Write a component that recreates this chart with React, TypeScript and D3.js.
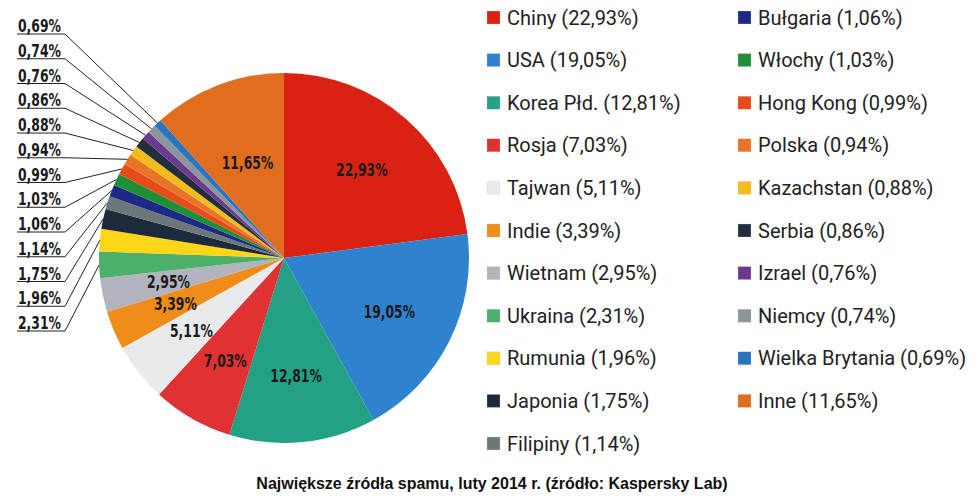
import * as d3 from "d3";
import React from "react";

const countries = [
  "Chiny", "USA", "Korea Płd.", "Rosja", "Tajwan", "Indie", "Wietnam",
  "Ukraina", "Rumunia", "Japonia", "Filipiny", "Bułgaria", "Włochy",
  "Hong Kong", "Polska", "Kazachstan", "Serbia", "Izrael", "Niemcy",
  "Wielka Brytania", "Inne",
];
const shares = [
  22.93, 19.05, 12.81, 7.03, 5.11, 3.39, 2.95, 2.31, 1.96, 1.75, 1.14, 1.06,
  1.03, 0.99, 0.94, 0.88, 0.86, 0.76, 0.74, 0.69, 11.65,
];
const colors = [
  "#d92212", "#2f82cd", "#22a184", "#e03232", "#e8eaeb", "#f08c1a", "#b1b4bc",
  "#4caf6a", "#fcd617", "#1c2a3c", "#6d7779", "#1d2a85", "#1f8f35", "#e84a1a",
  "#e8742a", "#f2bd1c", "#222e3d", "#6b3a8e", "#8c9599", "#2a76be", "#e06e1e",
];
// slices labelled inside the pie; the rest get leader lines on the left
const insideLabels = ["Chiny", "USA", "Korea Płd.", "Rosja", "Tajwan", "Indie", "Wietnam", "Inne"];
const title = "Największe źródła spamu, luty 2014 r. (źródło: Kaspersky Lab)";

const fmt = (v: number) => v.toFixed(2).replace(".", ",") + "%";

const App = () => {
  const width = 978;
  const height = 500;
  const cx = 284;
  const cy = 258;
  const r = 185;

  const data = countries.map((name, i) => ({ name, value: shares[i], color: colors[i] }));
  const arcs = d3.pie<any>().sort(null).value((d) => d.value)(data);
  const arc = d3.arc<any>().innerRadius(0).outerRadius(r);

  // condensed bold look for the percentage labels
  const labelProps = (s: string) => ({
    fontFamily: "'DejaVu Sans Condensed', 'DejaVu Sans', sans-serif",
    fontWeight: "bold",
    fontSize: 18,
    fill: "#1a1a1a",
    textLength: s.length * 8.6,
    lengthAdjust: "spacingAndGlyphs",
    style: { fontStretch: "condensed" as const },
  });

  // leader-labelled slices, top of the list = last slice before "Inne"
  const outside = arcs.filter((a) => !insideLabels.includes(a.data.name)).reverse();
  const rowY = d3.scaleLinear().domain([0, outside.length - 1]).range([34, 331]);

  // legend: two columns
  const col1 = data.slice(0, 11);
  const col2 = data.slice(11);
  const legY = d3.scaleLinear().domain([0, 10]).range([17.5, 443.5]);

  return (
    <svg width={width} height={height} style={{ display: "block", position: "absolute", left: 0, top: 0 }}>
      <rect width={width} height={height} fill="#fff" />
      <g transform={`translate(${cx},${cy})`}>
        {arcs.map((a) => (
          <path key={a.data.name} d={arc(a) as string} fill={a.data.color} />
        ))}
        {arcs
          .filter((a) => insideLabels.includes(a.data.name))
          .map((a) => {
            const lr = a.data.name === "Inne" ? 102 : 118;
            const c = d3.arc<any>().innerRadius(lr).outerRadius(lr).centroid(a);
            const s = fmt(a.data.value);
            return (
              <text key={a.data.name} x={c[0]} y={c[1]} dy="0.35em" textAnchor="middle" {...labelProps(s)}>
                {s}
              </text>
            );
          })}
      </g>
      {outside.map((a, i) => {
        const y = rowY(i);
        const mid = (a.startAngle + a.endAngle) / 2;
        const ex = cx + r * Math.sin(mid);
        const ey = cy - r * Math.cos(mid);
        const s = fmt(a.data.value);
        return (
          <g key={a.data.name}>
            <text x={18} y={y - 2} {...labelProps(s)}>
              {s}
            </text>
            <polyline
              points={`17,${y} 65,${y} ${ex},${ey}`}
              fill="none"
              stroke="#222"
              strokeWidth={1}
            />
          </g>
        );
      })}
      {[col1, col2].map((col, ci) =>
        col.map((d, i) => {
          const x = ci === 0 ? 487 : 738;
          const y = legY(i);
          return (
            <g key={d.name}>
              <rect x={x} y={y - 6.5} width={13} height={13} fill={d.color} stroke="#ccc" strokeWidth={0.3} />
              <text x={x + 20} y={y} dy="0.35em" fontFamily="Roboto, sans-serif" fontSize={20} fill="#222">
                {`${d.name} (${fmt(d.value)})`}
              </text>
            </g>
          );
        })
      )}
      <text
        x={492}
        y={489}
        textAnchor="middle"
        fontFamily="'Liberation Sans', Arial, sans-serif"
        fontWeight="bold"
        fontSize={16}
        fill="#111"
      >
        {title}
      </text>
    </svg>
  );
};

export default App;
